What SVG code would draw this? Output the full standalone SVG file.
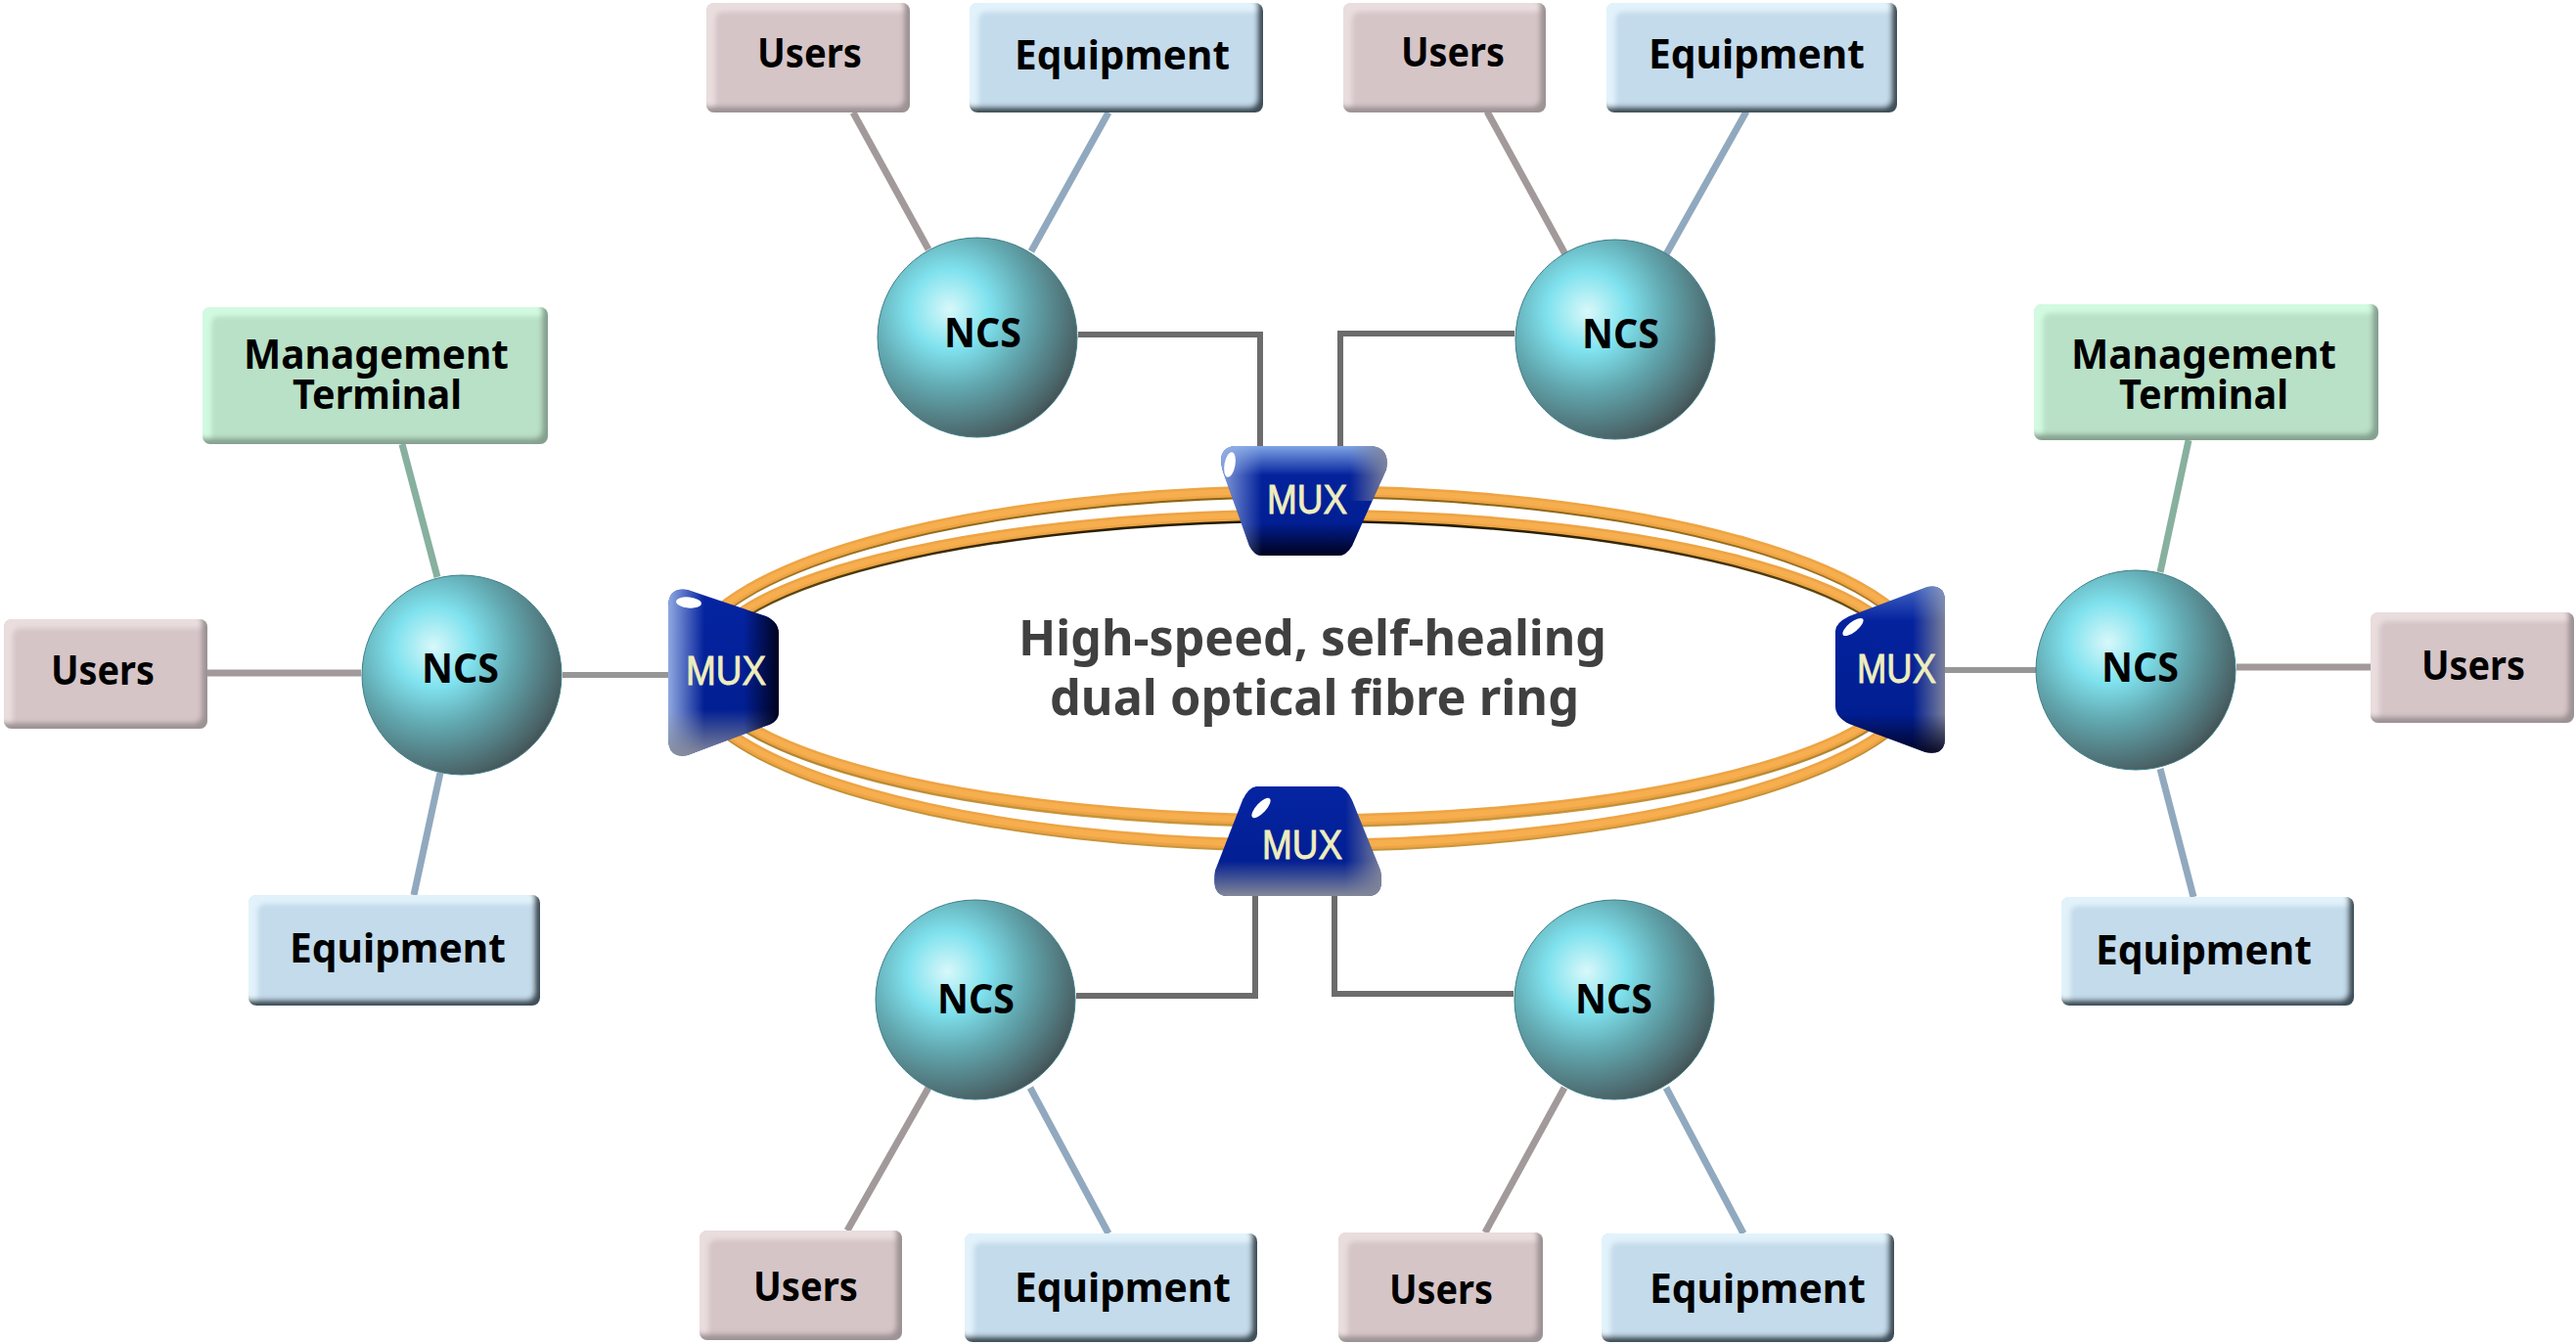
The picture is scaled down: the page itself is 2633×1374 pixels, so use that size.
<svg xmlns="http://www.w3.org/2000/svg" width="2633" height="1374" viewBox="0 0 2633 1374">
<style>
.box{stroke:none}
.u{fill:#D6C5C7;filter:url(#bu)}
.e{fill:#C4DBEB;filter:url(#be)}
.m{fill:#B9E1C7;filter:url(#bm)}
text{font-family:"Noto Sans","Open Sans","Liberation Sans",sans-serif;font-weight:700;fill:#000;font-size:42px}
.mx{font-family:"Liberation Sans",Arial,sans-serif;font-weight:400;fill:#EEEEBE;stroke:#EEEEBE;stroke-width:0.9;font-size:43px}
.c{fill:#404040;font-size:50px}
.ball{fill:url(#sph);stroke:#3F7F88;stroke-width:1}
.lu{stroke:#A29A9A;stroke-width:7;fill:none}
.le{stroke:#91A9BE;stroke-width:7;fill:none}
.lm{stroke:#87B09E;stroke-width:7;fill:none}
.lx{stroke:#6C6C6C;stroke-width:6;fill:none}
.ls{stroke:#969696;stroke-width:6;fill:none}
.ro{fill:none;stroke:#EEA444;stroke-width:11}
.ri{fill:none;stroke:#F6AE4E;stroke-width:6}
.rd{fill:none;stroke-width:11}
.hl{fill:#fff}
.base{fill:url(#body)}
</style>
<defs>
<radialGradient id="sph" cx="0.36" cy="0.36" r="0.72" fx="0.36" fy="0.36">
<stop offset="0" stop-color="#D8F8FA"/><stop offset="0.28" stop-color="#7FE2EE"/><stop offset="0.55" stop-color="#62A8B0"/><stop offset="0.9" stop-color="#4A6468"/><stop offset="1" stop-color="#414B4D"/>
</radialGradient>
<linearGradient id="body" x1="0" y1="0" x2="0" y2="1"><stop offset="0" stop-color="#0524A2"/><stop offset="1" stop-color="#001C8C"/></linearGradient>
<linearGradient id="edgeO" x1="0" y1="0" x2="0" y2="1"><stop offset="0" stop-color="#8A6418"/><stop offset="0.5" stop-color="#B88830"/><stop offset="1" stop-color="#C8963C"/></linearGradient>
<linearGradient id="edgeI" x1="0" y1="0" x2="0" y2="1"><stop offset="0" stop-color="#201800"/><stop offset="0.5" stop-color="#9A7424"/><stop offset="1" stop-color="#C8963C"/></linearGradient>
<filter id="bu" x="-5%" y="-5%" width="110%" height="110%"><feGaussianBlur in="SourceAlpha" stdDeviation="2.5" result="b"/><feOffset in="b" dx="-6" dy="-6" result="o1"/><feComposite in="SourceAlpha" in2="o1" operator="out" result="d"/><feFlood flood-color="#9C9294"/><feComposite in2="d" operator="in" result="dk"/><feOffset in="b" dx="9" dy="9" result="o2"/><feComposite in="SourceAlpha" in2="o2" operator="out" result="l"/><feFlood flood-color="#E9DDDE"/><feComposite in2="l" operator="in" result="lt"/><feMerge><feMergeNode in="SourceGraphic"/><feMergeNode in="lt"/><feMergeNode in="dk"/></feMerge></filter>
<filter id="be" x="-5%" y="-5%" width="110%" height="110%"><feGaussianBlur in="SourceAlpha" stdDeviation="2.5" result="b"/><feOffset in="b" dx="-6" dy="-6" result="o1"/><feComposite in="SourceAlpha" in2="o1" operator="out" result="d"/><feFlood flood-color="#3E4E58"/><feComposite in2="d" operator="in" result="dk"/><feOffset in="b" dx="9" dy="9" result="o2"/><feComposite in="SourceAlpha" in2="o2" operator="out" result="l"/><feFlood flood-color="#E2F2FB"/><feComposite in2="l" operator="in" result="lt"/><feMerge><feMergeNode in="SourceGraphic"/><feMergeNode in="lt"/><feMergeNode in="dk"/></feMerge></filter>
<filter id="bm" x="-5%" y="-5%" width="110%" height="110%"><feGaussianBlur in="SourceAlpha" stdDeviation="2.5" result="b"/><feOffset in="b" dx="-6" dy="-6" result="o1"/><feComposite in="SourceAlpha" in2="o1" operator="out" result="d"/><feFlood flood-color="#86A090"/><feComposite in2="d" operator="in" result="dk"/><feOffset in="b" dx="9" dy="9" result="o2"/><feComposite in="SourceAlpha" in2="o2" operator="out" result="l"/><feFlood flood-color="#D2FAE0"/><feComposite in2="l" operator="in" result="lt"/><feMerge><feMergeNode in="SourceGraphic"/><feMergeNode in="lt"/><feMergeNode in="dk"/></feMerge></filter>
<linearGradient id="tL" x1="0" y1="0" x2="0" y2="1"><stop offset="0" stop-color="#8FB4EC"/><stop offset="1" stop-color="#8FB4EC" stop-opacity="0"/></linearGradient>
<linearGradient id="bK" x1="0" y1="1" x2="0" y2="0"><stop offset="0" stop-color="#000018"/><stop offset="1" stop-color="#000018" stop-opacity="0"/></linearGradient>
<linearGradient id="bG" x1="0" y1="1" x2="0" y2="0"><stop offset="0" stop-color="#8A8E9A"/><stop offset="1" stop-color="#8A8E9A" stop-opacity="0"/></linearGradient>
<linearGradient id="lL" x1="0" y1="0" x2="1" y2="0"><stop offset="0" stop-color="#9CB4E6"/><stop offset="1" stop-color="#9CB4E6" stop-opacity="0"/></linearGradient>
<linearGradient id="rK" x1="1" y1="0" x2="0" y2="0"><stop offset="0" stop-color="#000018"/><stop offset="1" stop-color="#000018" stop-opacity="0"/></linearGradient>
<linearGradient id="rG" x1="1" y1="0" x2="0" y2="0"><stop offset="0" stop-color="#82869A"/><stop offset="1" stop-color="#82869A" stop-opacity="0"/></linearGradient>
<clipPath id="cT"><path id="pT" d="M1262,456 L1402,456 Q1421,458 1417,480 L1382,558 Q1376,568 1368,568 L1290,568 Q1282,568 1277,558 L1250,482 Q1243,458 1262,456 Z"/></clipPath>
<clipPath id="cB"><path id="pB" d="M1284,804 L1368,804 Q1376,805 1382,818 L1411,890 Q1416,916 1398,916 L1254,916 Q1238,916 1242,890 L1270,818 Q1276,805 1284,804 Z"/></clipPath>
<clipPath id="cL"><path id="pL" d="M703,603 L783,630 Q796,636 796,648 L796,728 Q796,738 783,742 L703,772 Q683,776 683,755 L683,620 Q683,600 703,603 Z"/></clipPath>
<clipPath id="cR"><path id="pR" d="M1970,600 Q1988,597 1988,615 L1988,755 Q1988,773 1968,769 L1890,740 Q1876,733 1876,722 L1876,645 Q1876,637 1890,630 Z"/></clipPath>
</defs>
<rect width="2633" height="1374" fill="#fff"/>
<g id="connectors">
<path class="lu" d="M872,115 L949,255"/><path class="le" d="M1133,115 L1054,257"/>
<path class="lu" d="M1520,114 L1600,260"/><path class="le" d="M1785,114 L1703,260"/>
<path class="lm" d="M411,454 L447,590"/><path class="lu" d="M212,688 L369,688"/><path class="le" d="M450,790 L423,915"/>
<path class="lm" d="M2237,450 L2208,585"/><path class="lu" d="M2286,682 L2423,682"/><path class="le" d="M2208,786 L2242,917"/>
<path class="lu" d="M949,1112 L866,1258"/><path class="le" d="M1053,1112 L1133,1261"/>
<path class="lu" d="M1599,1112 L1518,1260"/><path class="le" d="M1703,1112 L1782,1261"/>
<path class="lx" d="M1102,342 L1288,342 L1288,458"/><path class="lx" d="M1548,341 L1370,341 L1370,458"/>
<path class="lx" d="M1100,1018 L1283,1018 L1283,914"/><path class="lx" d="M1547,1016 L1364,1016 L1364,914"/>
<path class="ls" d="M575,690 L685,690"/><path class="ls" d="M1986,685 L2081,685"/>
</g>
<g id="ring">
<ellipse class="rd" stroke="url(#edgeO)" cx="1335" cy="684.5" rx="635" ry="181"/><ellipse class="ro" cx="1335" cy="682.5" rx="635" ry="181"/><ellipse class="ri" cx="1335" cy="682.5" rx="635" ry="181"/>
<ellipse class="rd" stroke="url(#edgeI)" cx="1335" cy="684.5" rx="618" ry="156"/><ellipse class="ro" cx="1335" cy="682" rx="618" ry="156"/><ellipse class="ri" cx="1335" cy="682" rx="618" ry="156"/>
</g>
<g id="mux-top">
<use href="#pT" class="base"/>
<g clip-path="url(#cT)">
<rect x="1240" y="452" width="185" height="34" fill="url(#tL)"/>
<rect x="1240" y="535" width="185" height="35" fill="url(#bK)"/>
<rect x="1240" y="452" width="50" height="118" fill="url(#lL)"/>
<rect x="1380" y="452" width="40" height="60" fill="url(#rG)"/>
</g>
<ellipse class="hl" cx="1257" cy="475" rx="5.5" ry="13" transform="rotate(10 1257 475)"/>
<text class="mx" x="1295" y="525" textLength="82" lengthAdjust="spacingAndGlyphs">MUX</text>
</g>
<g id="mux-bottom">
<use href="#pB" class="base"/>
<g clip-path="url(#cB)">
<rect x="1238" y="880" width="180" height="38" fill="url(#bG)"/>
<rect x="1375" y="800" width="40" height="118" fill="url(#rG)"/>
</g>
<ellipse class="hl" cx="1289" cy="826" rx="13" ry="5" transform="rotate(-47 1289 826)"/>
<text class="mx" x="1290" y="878" textLength="82" lengthAdjust="spacingAndGlyphs">MUX</text>
</g>
<g id="mux-left">
<use href="#pL" class="base"/>
<g clip-path="url(#cL)">
<rect x="680" y="598" width="40" height="180" fill="url(#lL)"/>
<rect x="680" y="725" width="120" height="50" fill="url(#bG)"/>
<rect x="760" y="598" width="38" height="180" fill="url(#rK)"/>
</g>
<ellipse class="hl" cx="704" cy="616" rx="13" ry="5.5" transform="rotate(6 704 616)"/>
<text class="mx" x="701" y="700" textLength="82" lengthAdjust="spacingAndGlyphs">MUX</text>
</g>
<g id="mux-right">
<use href="#pR" class="base"/>
<g clip-path="url(#cR)">
<rect x="1955" y="595" width="35" height="180" fill="url(#rG)"/>
<rect x="1870" y="730" width="120" height="45" fill="url(#bK)"/>
<rect x="1870" y="595" width="120" height="40" fill="url(#tL)" opacity="0.5"/>
</g>
<ellipse class="hl" cx="1894" cy="641" rx="13" ry="5" transform="rotate(-39 1894 641)"/>
<text class="mx" x="1898" y="698" textLength="81" lengthAdjust="spacingAndGlyphs">MUX</text>
</g>
<g id="users-1"><rect class="u" x="722" y="3" width="208" height="112" rx="8"/><text x="774" y="69" textLength="107" lengthAdjust="spacingAndGlyphs">Users</text></g>
<g id="equipment-1"><rect class="e" x="991" y="3" width="300" height="112" rx="8"/><text x="1037" y="71" textLength="220" lengthAdjust="spacingAndGlyphs">Equipment</text></g>
<g id="ncs-1"><circle class="ball" cx="999" cy="345" r="102"/><text x="965" y="355" textLength="79" lengthAdjust="spacingAndGlyphs">NCS</text></g>
<g id="users-2"><rect class="u" x="1373" y="3" width="207" height="112" rx="8"/><text x="1432" y="68" textLength="106" lengthAdjust="spacingAndGlyphs">Users</text></g>
<g id="equipment-2"><rect class="e" x="1642" y="3" width="297" height="112" rx="8"/><text x="1685" y="70" textLength="221" lengthAdjust="spacingAndGlyphs">Equipment</text></g>
<g id="ncs-2"><circle class="ball" cx="1651" cy="347" r="102"/><text x="1617" y="356" textLength="79" lengthAdjust="spacingAndGlyphs">NCS</text></g>
<g id="management-left"><rect class="m" x="207" y="314" width="353" height="140" rx="8"/><text x="249" y="377" textLength="271" lengthAdjust="spacingAndGlyphs">Management</text><text x="299" y="418" textLength="173" lengthAdjust="spacingAndGlyphs">Terminal</text></g>
<g id="users-left"><rect class="u" x="4" y="633" width="208" height="112" rx="8"/><text x="52" y="700" textLength="106" lengthAdjust="spacingAndGlyphs">Users</text></g>
<g id="ncs-left"><circle class="ball" cx="472" cy="690" r="102"/><text x="431" y="698" textLength="79" lengthAdjust="spacingAndGlyphs">NCS</text></g>
<g id="equipment-left"><rect class="e" x="254" y="915" width="298" height="113" rx="8"/><text x="296" y="984" textLength="221" lengthAdjust="spacingAndGlyphs">Equipment</text></g>
<g id="management-right"><rect class="m" x="2079" y="311" width="352" height="139" rx="8"/><text x="2117" y="377" textLength="271" lengthAdjust="spacingAndGlyphs">Management</text><text x="2166" y="418" textLength="173" lengthAdjust="spacingAndGlyphs">Terminal</text></g>
<g id="ncs-right"><circle class="ball" cx="2183" cy="685" r="102"/><text x="2148" y="697" textLength="79" lengthAdjust="spacingAndGlyphs">NCS</text></g>
<g id="users-right"><rect class="u" x="2423" y="626" width="208" height="113" rx="8"/><text x="2475" y="695" textLength="106" lengthAdjust="spacingAndGlyphs">Users</text></g>
<g id="equipment-right"><rect class="e" x="2107" y="917" width="299" height="111" rx="8"/><text x="2142" y="986" textLength="221" lengthAdjust="spacingAndGlyphs">Equipment</text></g>
<g id="ncs-3"><circle class="ball" cx="997" cy="1022" r="102"/><text x="958" y="1036" textLength="79" lengthAdjust="spacingAndGlyphs">NCS</text></g>
<g id="ncs-4"><circle class="ball" cx="1650" cy="1022" r="102"/><text x="1610" y="1036" textLength="79" lengthAdjust="spacingAndGlyphs">NCS</text></g>
<g id="users-3"><rect class="u" x="715" y="1258" width="207" height="112" rx="8"/><text x="770" y="1330" textLength="107" lengthAdjust="spacingAndGlyphs">Users</text></g>
<g id="equipment-3"><rect class="e" x="986" y="1261" width="299" height="111" rx="8"/><text x="1037" y="1331" textLength="221" lengthAdjust="spacingAndGlyphs">Equipment</text></g>
<g id="users-4"><rect class="u" x="1368" y="1260" width="209" height="112" rx="8"/><text x="1420" y="1333" textLength="106" lengthAdjust="spacingAndGlyphs">Users</text></g>
<g id="equipment-4"><rect class="e" x="1637" y="1261" width="299" height="111" rx="8"/><text x="1686" y="1332" textLength="221" lengthAdjust="spacingAndGlyphs">Equipment</text></g>
<g id="ring-label"><text class="c" x="1041" y="670" textLength="601" lengthAdjust="spacingAndGlyphs">High-speed, self-healing</text><text class="c" x="1073" y="731" textLength="541" lengthAdjust="spacingAndGlyphs">dual optical fibre ring</text></g>
</svg>
